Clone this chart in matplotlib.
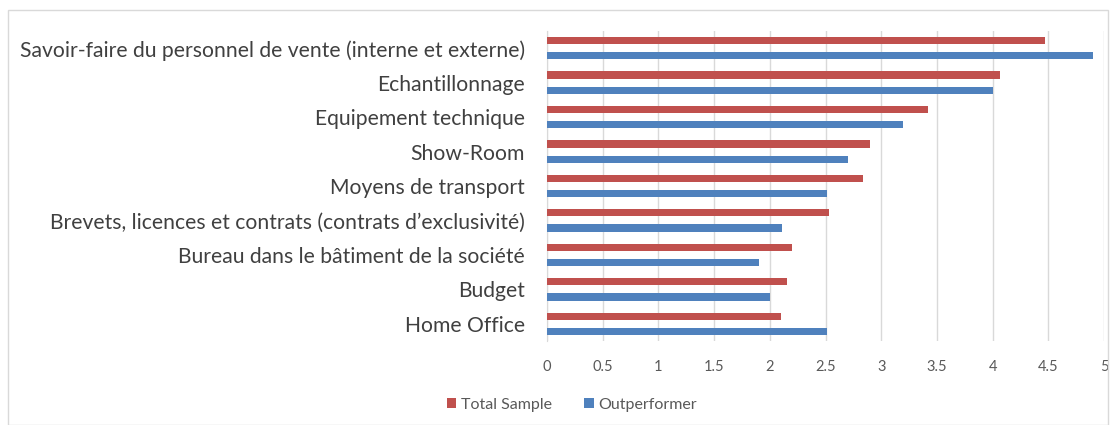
import matplotlib.pyplot as plt
import numpy as np
from matplotlib.patches import Rectangle

plt.rcParams['font.family'] = ['Lato', 'DejaVu Sans']

categories = ['Savoir-faire du personnel de vente (interne et externe)', 'Echantillonnage',
              'Equipement technique', 'Show-Room', 'Moyens de transport',
              'Brevets, licences et contrats (contrats d\u2019exclusivit\u00e9)',
              'Bureau dans le b\u00e2timent de la soci\u00e9t\u00e9', 'Budget', 'Home Office']
total_sample = [4.47, 4.07, 3.42, 2.90, 2.84, 2.53, 2.20, 2.15, 2.10]
outperformer = [4.90, 4.00, 3.20, 2.70, 2.51, 2.11, 1.90, 2.00, 2.51]

fig = plt.figure(figsize=(11.15, 4.25), dpi=100)
ax = fig.add_axes([547 / 1115, 1 - 341 / 425, 557 / 1115, 310 / 425])

y = np.arange(len(categories))
ax.barh(y - 0.22, total_sample, height=0.21, color='#C0504D', label='Total Sample', zorder=3)
ax.barh(y + 0.22, outperformer, height=0.21, color='#4F81BD', label='Outperformer', zorder=3)

ax.set_xlim(0, 5)
ax.set_ylim(len(categories) - 0.5, -0.5)
ax.set_xticks(np.arange(0, 5.01, 0.5))
ax.set_xticklabels(['0', '0.5', '1', '1.5', '2', '2.5', '3', '3.5', '4', '4.5', '5'])
ax.set_yticks(y)
ax.set_yticklabels(categories, fontsize=15.2, color='#404040')
ax.tick_params(axis='x', length=0, pad=14, labelsize=10.5, labelcolor='#595959')
ax.tick_params(axis='y', length=0, pad=16)
ax.grid(axis='x', color='#D9D9D9', linewidth=1, zorder=0)
for side in ['top', 'right', 'bottom']:
    ax.spines[side].set_visible(False)
ax.spines['left'].set_color('#D9D9D9')

ax.legend(loc='center', bbox_to_anchor=(572 / 1115, 1 - 405 / 425), bbox_transform=fig.transFigure,
          ncol=2, frameon=False, fontsize=11.5, labelcolor='#595959', handlelength=0.6,
          handleheight=0.6, handletextpad=0.3, columnspacing=2.0)

fig.patches.append(Rectangle((8 / 1115, 0), 1100 / 1115, 1 - 10 / 425, transform=fig.transFigure,
                             fill=False, edgecolor='#D9D9D9', linewidth=1))

fig.savefig('out.png', dpi=100)
